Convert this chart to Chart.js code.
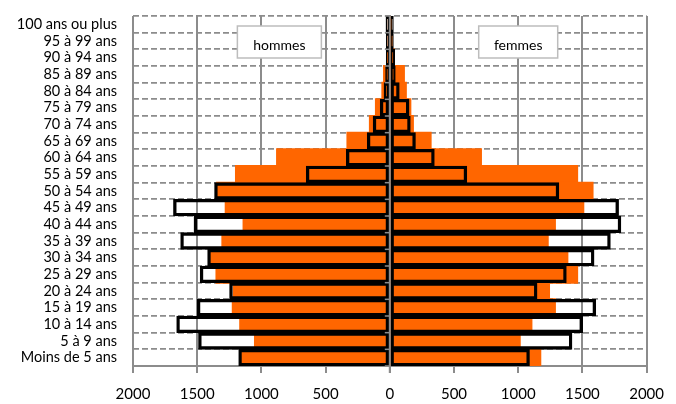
<!DOCTYPE html>
<html>
<head>
<meta charset="utf-8">
<script src="https://cdn.jsdelivr.net/npm/chart.js@4.4.1/dist/chart.umd.min.js"></script>
<style>
  body { margin: 0; background: #fff; }
</style>
</head>
<body>
<canvas id="pyramid" width="676" height="404"></canvas>
<script>
const ageGroups = [
  '100 ans ou plus', '95 à 99 ans', '90 à 94 ans', '85 à 89 ans', '80 à 84 ans',
  '75 à 79 ans', '70 à 74 ans', '65 à 69 ans', '60 à 64 ans', '55 à 59 ans',
  '50 à 54 ans', '45 à 49 ans', '40 à 44 ans', '35 à 39 ans', '30 à 34 ans',
  '25 à 29 ans', '20 à 24 ans', '15 à 19 ans', '10 à 14 ans', '5 à 9 ans',
  'Moins de 5 ans'
];

// orange bars
const hommesPleins = [5, 10, 20, 45, 58, 108, 155, 330, 878, 1198, 1345, 1278, 1139, 1304, 1393, 1350, 1215, 1223, 1165, 1050, 1152];
const femmesPleins = [10, 15, 30, 110, 125, 160, 180, 318, 710, 1459, 1579, 1507, 1286, 1230, 1383, 1459, 1240, 1286, 1103, 1012, 1172];

// black outlined bars
const hommesContour = [30, 28, 28, 33, 45, 75, 130, 176, 339, 651, 1365, 1685, 1525, 1629, 1419, 1477, 1248, 1500, 1660, 1490, 1177];
const femmesContour = [28, 28, 38, 43, 74, 150, 160, 200, 347, 600, 1317, 1782, 1800, 1718, 1591, 1375, 1147, 1604, 1502, 1419, 1088];

const xTicks = [-2000, -1500, -1000, -500, 0, 500, 1000, 1500, 2000];

const gridGrey = '#8c8c8c';

// zero line over the bars, small ticks on it, and the "hommes" / "femmes" boxes
const boxesPlugin = {
  id: 'boxes',
  afterDatasetsDraw(chart) {
    const ctx = chart.ctx;
    const x = chart.scales.x;
    const y = chart.scales.y;
    const x0 = x.getPixelForValue(0);

    ctx.save();
    ctx.strokeStyle = gridGrey;
    ctx.lineWidth = 2;
    ctx.beginPath();
    ctx.moveTo(x0, y.top);
    ctx.lineTo(x0, y.bottom + 7);
    ctx.stroke();

    ctx.lineWidth = 1.5;
    for (let i = 0; i <= ageGroups.length; i++) {
      const py = y.top + i * (y.bottom - y.top) / ageGroups.length;
      ctx.beginPath();
      ctx.moveTo(x0 - 5, py);
      ctx.lineTo(x0, py);
      ctx.stroke();
    }

    const boxes = [
      { text: 'hommes', cx: x.getPixelForValue(-860), w: 84 },
      { text: 'femmes', cx: x.getPixelForValue(1000), w: 79 }
    ];
    ctx.font = '14px Lato, "DejaVu Sans", sans-serif';
    ctx.textAlign = 'center';
    ctx.textBaseline = 'alphabetic';
    boxes.forEach(b => {
      ctx.fillStyle = '#fff';
      ctx.fillRect(b.cx - b.w / 2, 26, b.w, 32);
      ctx.strokeStyle = '#bdbdbd';
      ctx.lineWidth = 1.5;
      ctx.strokeRect(b.cx - b.w / 2, 26, b.w, 32);
      ctx.fillStyle = '#000';
      ctx.fillText(b.text, b.cx, 50);
    });
    ctx.restore();
  }
};

const barCommon = {
  grouped: false,
  categoryPercentage: 1,
  barPercentage: 1
};

new Chart(document.getElementById('pyramid'), {
  type: 'bar',
  data: {
    labels: ageGroups,
    datasets: [
      {
        ...barCommon,
        label: 'hommes (contour)',
        data: hommesContour.map(v => -v),
        backgroundColor: 'rgba(0,0,0,0)',
        borderColor: '#000',
        borderWidth: 2.7,
        borderSkipped: false
      },
      {
        ...barCommon,
        label: 'femmes (contour)',
        data: femmesContour,
        backgroundColor: 'rgba(0,0,0,0)',
        borderColor: '#000',
        borderWidth: 2.7,
        borderSkipped: false
      },
      {
        ...barCommon,
        label: 'hommes',
        data: hommesPleins.map(v => -v),
        backgroundColor: '#ff6600',
        borderWidth: 0,
        inflateAmount: 1
      },
      {
        ...barCommon,
        label: 'femmes',
        data: femmesPleins,
        backgroundColor: '#ff6600',
        borderWidth: 0,
        inflateAmount: 1
      }
    ]
  },
  options: {
    indexAxis: 'y',
    responsive: false,
    animation: false,
    layout: { padding: { top: 16, right: 19, bottom: 0, left: 0 } },
    plugins: {
      legend: { display: false },
      tooltip: { enabled: false }
    },
    scales: {
      x: {
        min: -2000,
        max: 2000,
        afterBuildTicks: s => { s.ticks = xTicks.map(v => ({ value: v })); },
        afterFit: s => { s.height = 38; },
        ticks: {
          color: '#000',
          padding: 12,
          font: { family: 'Lato, "DejaVu Sans", sans-serif', size: 15 },
          callback: v => Math.abs(v)
        },
        grid: {
          color: gridGrey,
          lineWidth: 2,
          tickLength: 7
        },
        border: { color: gridGrey, width: 2 }
      },
      y: {
        afterFit: s => {
          s.width = 133;
          s.paddingTop = 0;
          s.paddingBottom = 0;
        },
        ticks: {
          color: '#000',
          padding: 16,
          autoSkip: false,
          font: { family: 'Lato, "DejaVu Sans", sans-serif', size: 14.5 }
        },
        grid: {
          offset: true,
          color: gridGrey,
          lineWidth: 1.7,
          drawTicks: false
        },
        border: { display: false, dash: [6, 3] }
      }
    }
  },
  plugins: [boxesPlugin]
});
</script>
</body>
</html>
